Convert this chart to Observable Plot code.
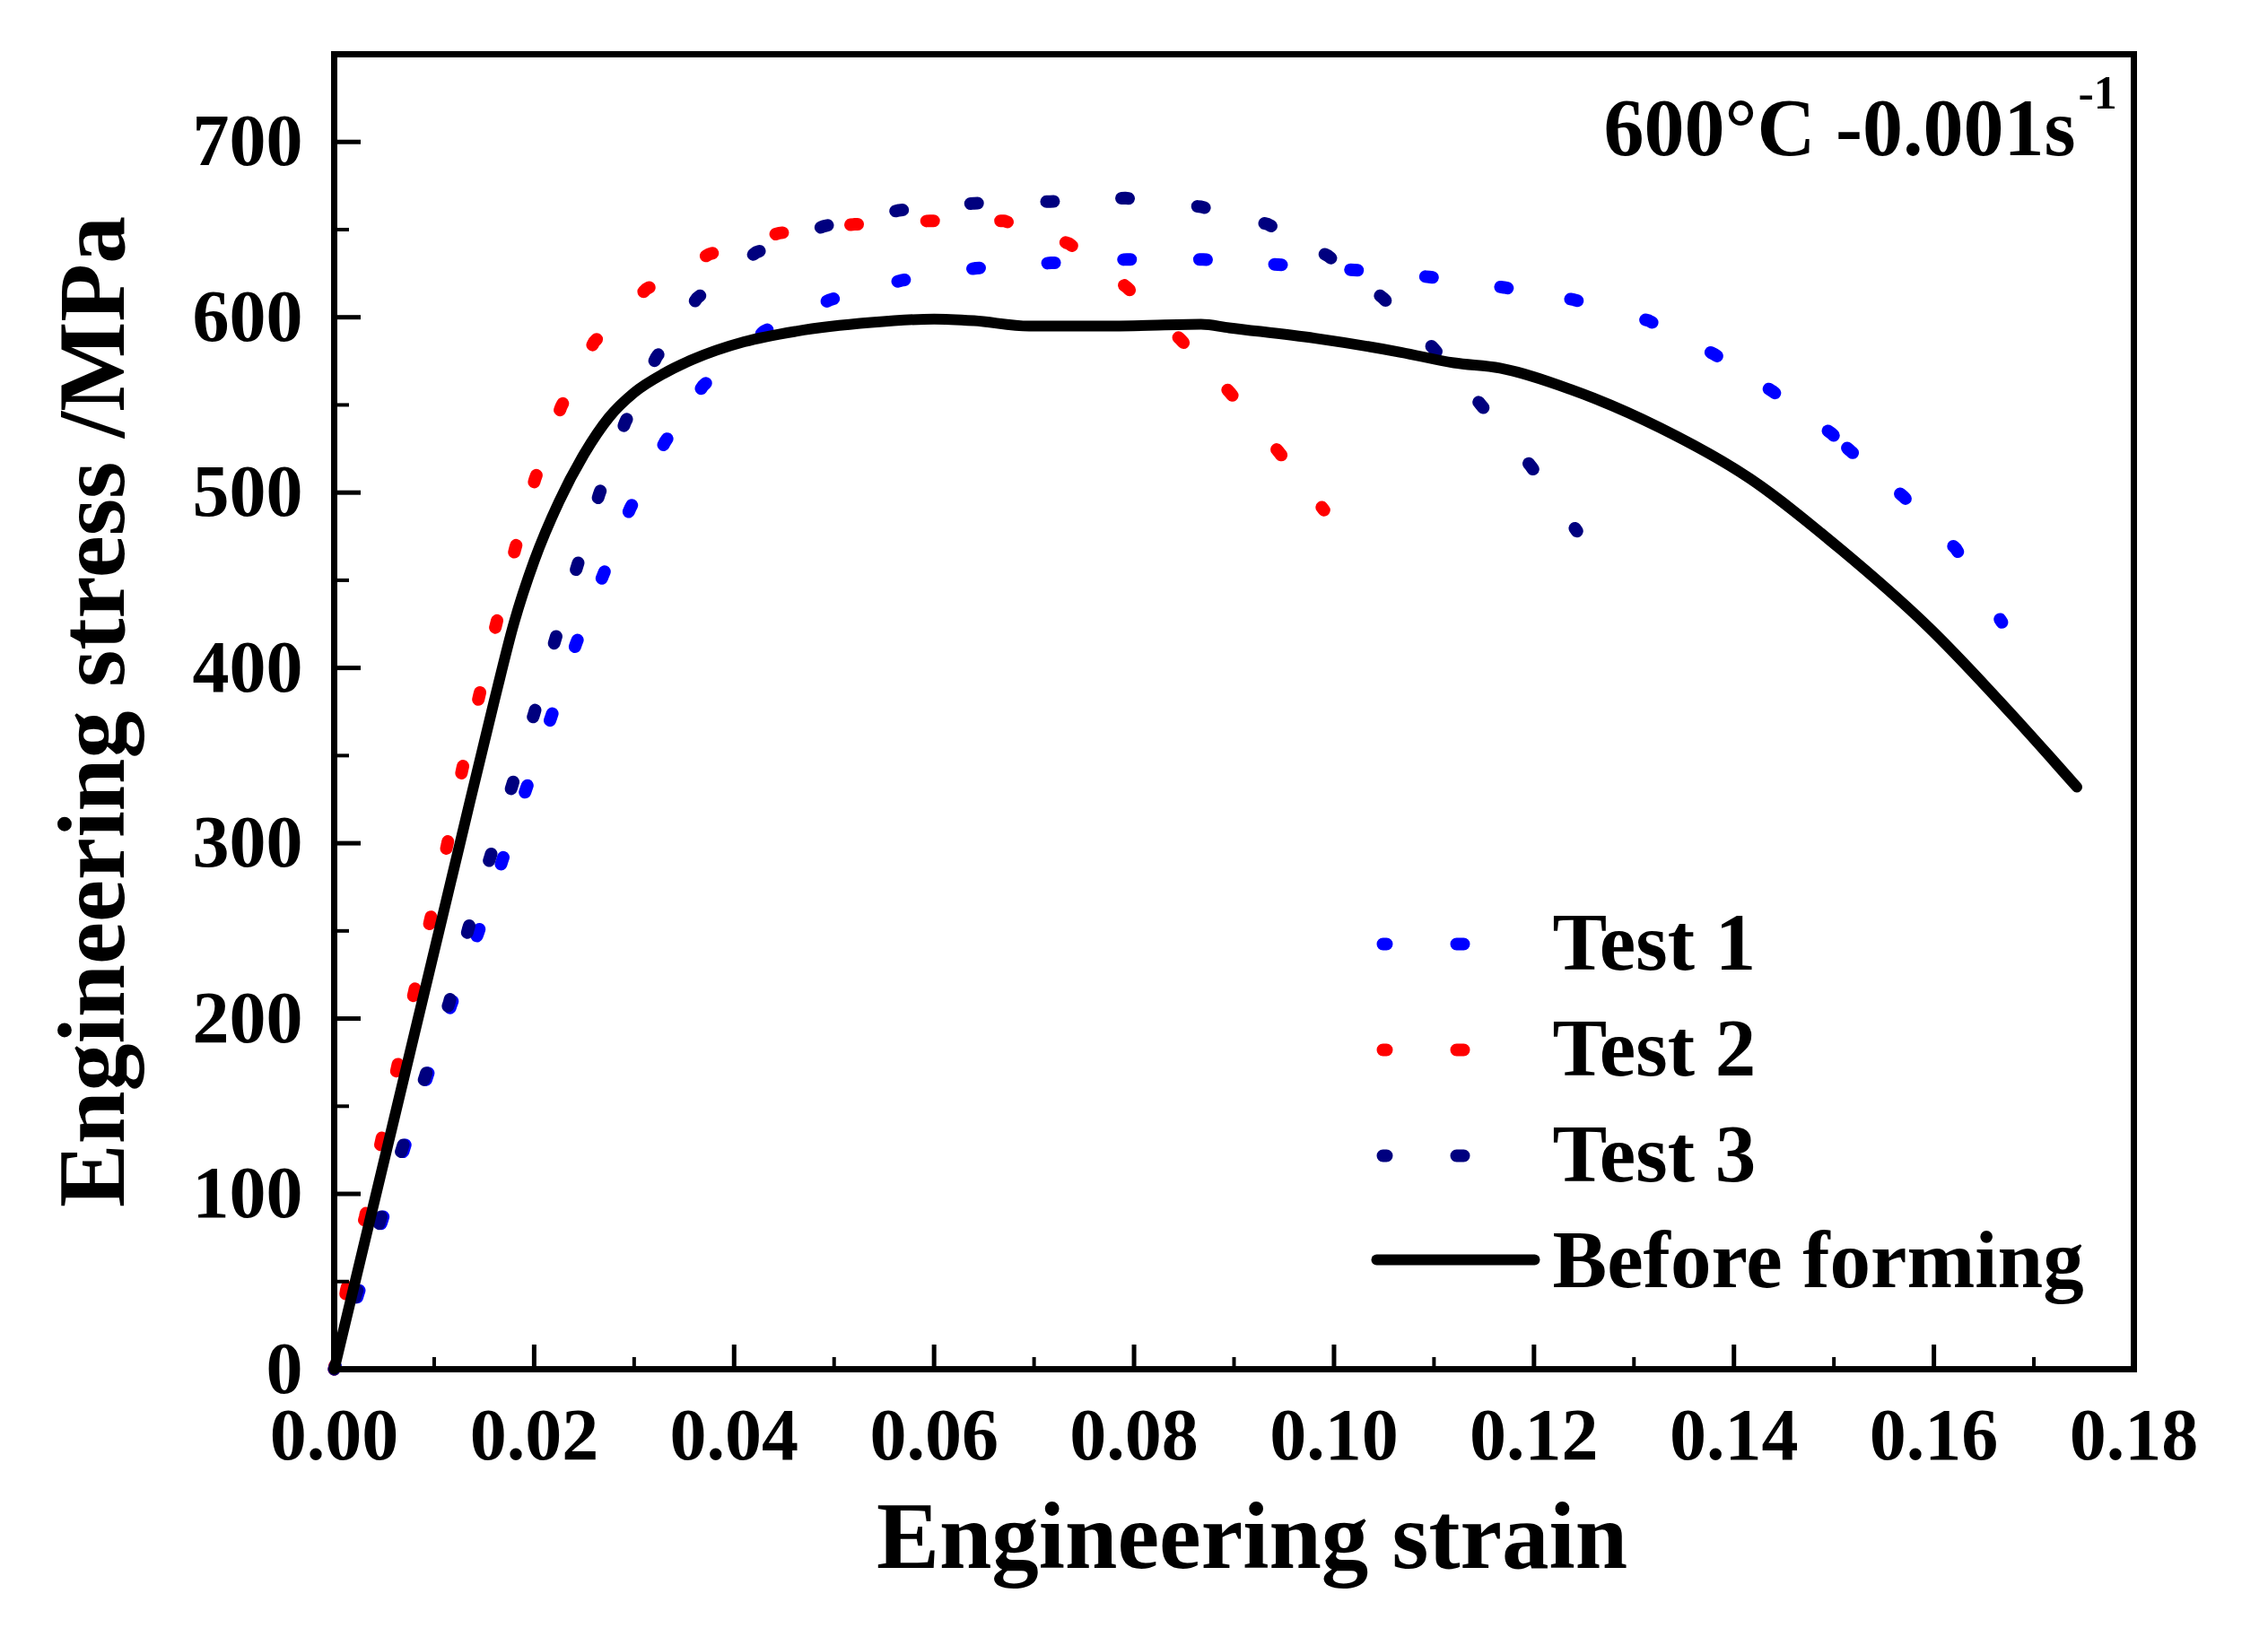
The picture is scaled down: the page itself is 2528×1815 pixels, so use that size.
<!DOCTYPE html>
<html>
<head>
<meta charset="utf-8">
<script src="https://cdn.jsdelivr.net/npm/d3@7"></script>
<script src="https://cdn.jsdelivr.net/npm/@observablehq/plot@0.6"></script>
<style>
  html, body { margin: 0; padding: 0; background: white; }
  svg text { font-family: "Liberation Serif", "Times New Roman", serif; font-weight: bold; }
</style>
</head>
<body>
<div id="chart"></div>
<script>
// ---- Data ----
const test1Strain = [0, 0.0024, 0.0048, 0.0070, 0.0093, 0.0117, 0.0144, 0.0168, 0.0192, 0.0217, 0.0242, 0.0269, 0.0296, 0.0331, 0.0369, 0.0430, 0.0496, 0.0567, 0.0642, 0.0717, 0.0793, 0.0869, 0.0944, 0.1020, 0.1095, 0.1170, 0.1240, 0.1315, 0.1380, 0.1438, 0.1497, 0.1516, 0.1569, 0.1622, 0.1668];
const test1Stress = [0, 43, 85, 126, 167, 208, 249, 290, 331, 372, 414, 453, 491, 529, 561, 592, 610, 621, 628, 631, 633, 633, 630, 627, 623, 617, 610, 598, 579, 558, 534, 524, 498, 468, 426];

const test2Strain = [0, 0.0012, 0.0031, 0.0047, 0.0063, 0.0080, 0.0096, 0.0113, 0.0128, 0.0145, 0.0162, 0.0181, 0.0201, 0.0227, 0.0260, 0.0312, 0.0375, 0.0445, 0.0520, 0.0596, 0.0670, 0.0735, 0.0793, 0.0847, 0.0896, 0.0945, 0.0990];
const test2Stress = [0, 45, 87, 130, 172, 215, 256, 299, 342, 384, 425, 468, 508, 549, 586, 616, 636, 648, 653, 655, 655, 642, 617, 587, 557, 523, 490];

const test3Strain = [0, 0.0022, 0.0046, 0.0068, 0.0091, 0.0115, 0.0134, 0.0156, 0.0178, 0.0200, 0.0221, 0.0243, 0.0265, 0.0291, 0.0322, 0.0363, 0.0422, 0.0490, 0.0565, 0.0640, 0.0716, 0.0791, 0.0867, 0.0934, 0.0994, 0.1049, 0.1100, 0.1147, 0.1197, 0.1243];
const test3Stress = [0, 43, 85, 126, 167, 209, 251, 292, 333, 374, 416, 458, 499, 540, 577, 611, 637, 652, 661, 665, 666, 668, 663, 653, 635, 611, 582, 550, 515, 478];

const beforeStrain = [0, 0.0060, 0.0125, 0.0160, 0.0180, 0.0200, 0.0225, 0.0250, 0.0275, 0.0300, 0.0330, 0.0359, 0.0410, 0.0462, 0.0537, 0.0600, 0.0640, 0.0695, 0.0780, 0.0867, 0.0895, 0.0981, 0.1067, 0.1120, 0.1166, 0.1236, 0.1326, 0.1416, 0.1506, 0.1595, 0.1685, 0.1743];
const beforeStress = [0, 143, 298, 381, 426, 461, 495, 522, 543, 557, 568, 576, 586, 592, 597, 599, 598, 595, 595, 596, 594, 588, 580, 574, 571, 559, 537, 508, 468, 423, 369, 332];

const xMajorTicks = [0, 0.02, 0.04, 0.06, 0.08, 0.10, 0.12, 0.14, 0.16, 0.18];
const xMinorTicks = [0.01, 0.03, 0.05, 0.07, 0.09, 0.11, 0.13, 0.15, 0.17];
const yMajorTicks = [0, 100, 200, 300, 400, 500, 600, 700];
const yMinorTicks = [50, 150, 250, 350, 450, 550, 650];

const seriesNames = ["Test 1", "Test 2", "Test 3", "Before forming"];
const seriesColors = ["#0000ff", "#ff0000", "#00007f", "#000000"];
const xLabel = "Engineering strain";
const yLabel = "Engineering stress /MPa";
const annotationText = "600°C -0.001s";
const annotationSup = "-1";

// ---- Build tables ----
const toTable = (xs, ys) => xs.map((x, i) => ({strain: x, stress: ys[i]}));
const test1 = toTable(test1Strain, test1Stress);
const test2 = toTable(test2Strain, test2Stress);
const test3 = toTable(test3Strain, test3Stress);
const before = toTable(beforeStrain, beforeStress);

// ---- Layout ----
const W = 2528, H = 1815;
const mL = 372, mR = 150, mT = 60, mB = 289;
const plotW = W - mL - mR, plotH = H - mT - mB;
const xDomain = [0, 0.18], yDomain = [0, 750];

// dotted style: one short dash centred on each recorded point
const xPx = d3.scaleLinear(xDomain, [0, plotW]);
const yPx = d3.scaleLinear(yDomain, [0, plotH]);
function dottedStyle(table, dash = 8) {
  const parts = [];
  for (let i = 1; i < table.length; i++) {
    const seg = Math.hypot(xPx(table[i].strain) - xPx(table[i - 1].strain), yPx(table[i].stress) - yPx(table[i - 1].stress));
    parts.push(dash, Math.max(seg - dash, 0.5));
  }
  return {strokeWidth: 14, strokeDasharray: parts.join(","), strokeDashoffset: dash / 2, strokeLinecap: "round"};
}
const legendDotted = {strokeWidth: 14, strokeDasharray: "8,78", strokeDashoffset: 4, strokeLinecap: "round"};
const hline = {draw(context, l) { context.moveTo(0, 0); context.lineTo(l, 0); }};

const legendMarks = [];
seriesNames.forEach((name, i) => {
  const rowDy = 118 * i;
  if (i < 3) {
    legendMarks.push(Plot.vector([0], {frameAnchor: "top-left", dx: 1169, dy: 992 + rowDy, length: 92, rotate: 0, anchor: "start", shape: hline, stroke: seriesColors[i], ...legendDotted}));
  } else {
    legendMarks.push(Plot.vector([0], {frameAnchor: "top-left", dx: 1162, dy: 990 + rowDy, length: 176, rotate: 0, anchor: "start", shape: hline, stroke: seriesColors[i], strokeWidth: 12}));
  }
  legendMarks.push(Plot.text([name], {text: d => d, frameAnchor: "top-left", dx: 1358, dy: 1020 + rowDy, textAnchor: "start", lineAnchor: "bottom", fontSize: 91, fontWeight: "bold", fill: "black"}));
});

const chart = Plot.plot({
  width: W, height: H,
  marginLeft: mL, marginRight: mR, marginTop: mT, marginBottom: mB,
  x: {domain: xDomain},
  y: {domain: yDomain},
  marks: [
    Plot.line(test1, {x: "strain", y: "stress", stroke: seriesColors[0], ...dottedStyle(test1)}),
    Plot.line(test2, {x: "strain", y: "stress", stroke: seriesColors[1], ...dottedStyle(test2)}),
    Plot.line(test3, {x: "strain", y: "stress", stroke: seriesColors[2], ...dottedStyle(test3)}),
    Plot.line(before, {x: "strain", y: "stress", stroke: seriesColors[3], strokeWidth: 12, strokeLinecap: "round", curve: "monotone-x"}),
    Plot.tickX(xMajorTicks, {x: d => d, insetTop: plotH - 27, strokeWidth: 5, stroke: "black"}),
    Plot.tickX(xMinorTicks, {x: d => d, insetTop: plotH - 13, strokeWidth: 4, stroke: "black"}),
    Plot.tickY(yMajorTicks, {y: d => d, insetRight: plotW - 30, strokeWidth: 5, stroke: "black"}),
    Plot.tickY(yMinorTicks, {y: d => d, insetRight: plotW - 17, strokeWidth: 4, stroke: "black"}),
    Plot.frame({stroke: "black", strokeWidth: 7}),
    Plot.axisX({ticks: xMajorTicks, tickFormat: d3.format(".2f"), tickSize: 0, tickPadding: 42, fontSize: 82, fontWeight: "bold", label: null}),
    Plot.axisY({ticks: yMajorTicks, tickFormat: d3.format("d"), tickSize: 0, tickPadding: 35, fontSize: 82, fontWeight: "bold", label: null}),
    Plot.axisY({ticks: [], tickSize: 0, label: yLabel, labelAnchor: "center", labelOffset: 310, labelArrow: "none", fontSize: 106, fontWeight: "bold"}),
    Plot.text([xLabel], {text: d => d, frameAnchor: "bottom", dx: 20, dy: 221, lineAnchor: "bottom", fontSize: 105, fontWeight: "bold", fill: "black"}),
    Plot.text([annotationText], {text: d => d, frameAnchor: "top-right", dx: -65, dy: 112, textAnchor: "end", lineAnchor: "bottom", fontSize: 90, fontWeight: "bold", fill: "black"}),
    Plot.text([annotationSup], {text: d => d, frameAnchor: "top-right", dx: -62, dy: 60, textAnchor: "start", lineAnchor: "bottom", fontSize: 52, fontWeight: "bold", fill: "black"}),
    ...legendMarks
  ]
});
document.getElementById("chart").appendChild(chart);
</script>
</body>
</html>
